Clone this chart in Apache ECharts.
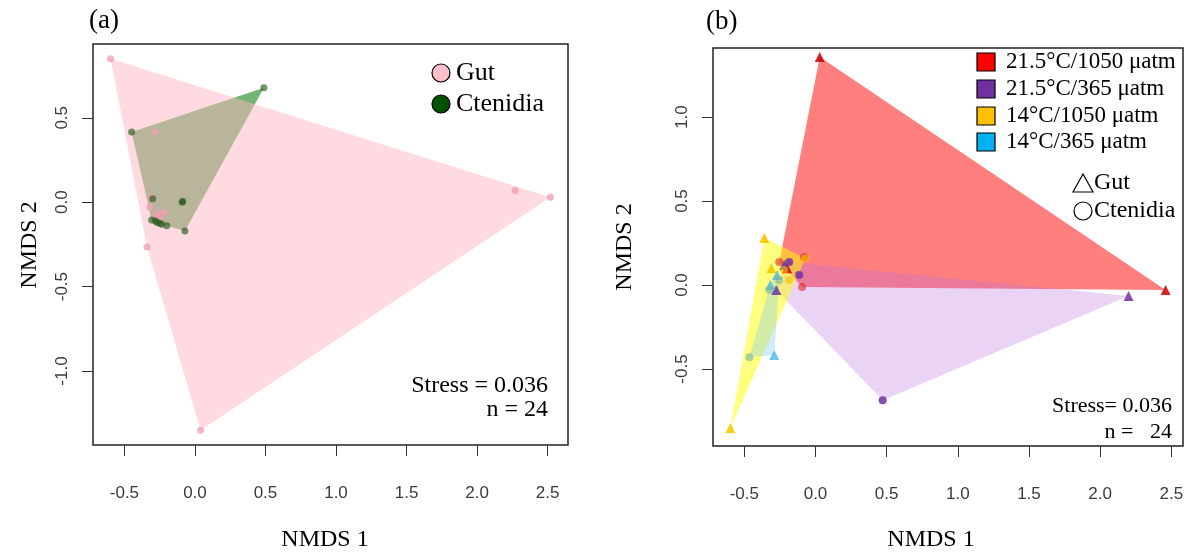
<!DOCTYPE html>
<html><head><meta charset="utf-8">
<script src="https://cdn.jsdelivr.net/npm/echarts@6/dist/echarts.min.js"></script>
<style>html,body{margin:0;padding:0;background:#fff}#c{width:1188px;height:554px}</style>
</head><body><div id="c"></div>
<script>
// ---------- Panel (a): tissue ----------
const gutA = [[-0.598,0.849],[2.52,0.03],[2.27,0.07],[0.04,-1.35],[-0.34,-0.265],[-0.284,0.418],
  [-0.31,0.03],[-0.26,-0.07],[-0.32,-0.03],[-0.28,-0.09],[-0.25,-0.10],[-0.22,-0.06]];
const ctenA = [[0.489,0.678],[-0.449,0.416],[-0.087,0.006],[-0.071,-0.171],[-0.307,-0.106],[-0.27,-0.12],
  [-0.236,-0.13],[-0.30,0.02],[-0.28,-0.11],[-0.25,-0.125],[-0.20,-0.14],[-0.09,0.0]];
// ---------- Panel (b): treatment (triangles = gut, circles = ctenidia) ----------
const redGut = [[0.03,1.357],[2.46,-0.03],[-0.20,0.10]];
const redCten = [[-0.08,0.167],[-0.255,0.137],[-0.094,-0.012]];
const purGut = [[2.20,-0.065],[-0.22,0.12],[-0.276,-0.03]];
const purCten = [[0.472,-0.685],[-0.185,0.137],[-0.115,0.06]];
const yelGut = [[-0.36,0.28],[-0.598,-0.851],[-0.31,0.10]];
const yelCten = [[-0.07,0.16],[-0.22,0.09],[-0.186,0.03]];
const cyaGut = [[-0.29,-0.417],[-0.318,0.0],[-0.27,0.06]];
const cyaCten = [[-0.465,-0.43],[-0.325,-0.03],[-0.255,0.03]];

const xTicks = [-0.5,0,0.5,1,1.5,2,2.5];
const yTicksA = [-1,-0.5,0,0.5];
const yTicksB = [-0.5,0,0.5,1];
const yRangeB = [-0.958, 1.411];
const legendA = ['Gut','Ctenidia'];
const legendB = ['21.5°C/1050 μatm','21.5°C/365 μatm','14°C/1050 μatm','14°C/365 μatm'];
const shapeLegend = ['Gut','Ctenidia'];

function hull(pts){
  const p = pts.slice().sort((a,b)=>a[0]-b[0]||a[1]-b[1]);
  const cr=(o,a,b)=>(a[0]-o[0])*(b[1]-o[1])-(a[1]-o[1])*(b[0]-o[0]);
  const lo=[],up=[];
  for(const q of p){while(lo.length>=2&&cr(lo[lo.length-2],lo[lo.length-1],q)<=0)lo.pop();lo.push(q);}
  for(let i=p.length-1;i>=0;i--){const q=p[i];while(up.length>=2&&cr(up[up.length-2],up[up.length-1],q)<=0)up.pop();up.push(q);}
  up.pop();lo.pop();return lo.concat(up);
}
function rng(all){
  const xs=all.map(p=>p[0]), ys=all.map(p=>p[1]);
  const x0=Math.min(...xs),x1=Math.max(...xs),y0=Math.min(...ys),y1=Math.max(...ys);
  const dx=(x1-x0)*0.04, dy=(y1-y0)*0.04;
  return {xmin:x0-dx,xmax:x1+dx,ymin:y0-dy,ymax:y1+dy};
}
const rA = rng(gutA.concat(ctenA));
const rB = rng([].concat(redGut,redCten,purGut,purCten,yelGut,yelCten,cyaGut,cyaCten));
rB.ymin = yRangeB[0]; rB.ymax = yRangeB[1];

function hullSeries(pts, gi, fill, z){
  const h = hull(pts);
  return {type:'custom', xAxisIndex:gi, yAxisIndex:gi, data:[[pts[0][0],pts[0][1]]], z:z, silent:true, clip:true,
    renderItem:(params,api)=>({type:'polygon', shape:{points:h.map(p=>api.coord(p))}, style:{fill:fill}})};
}
function scat(pts, gi, sym, size, color, z){
  return {type:'scatter', xAxisIndex:gi, yAxisIndex:gi, data:pts, symbol:sym, symbolSize:size, z:z, silent:true,
    itemStyle:{color:color, opacity:1}};
}
const tickLbl = {fontFamily:'Liberation Sans', fontSize:17, color:'#3a3a3a'};
function xAx(gi, r){
  return {type:'value', gridIndex:gi, min:r.xmin, max:r.xmax, splitLine:{show:false},
    axisLine:{show:false, onZero:false}, axisTick:{show:true, inside:false, length:11, customValues:xTicks, lineStyle:{color:'#333',width:1}},
    axisLabel:{customValues:xTicks, margin:40, formatter:v=>v.toFixed(1), ...tickLbl}};
}
function yAx(gi, r, ticks){
  return {type:'value', gridIndex:gi, min:r.ymin, max:r.ymax, splitLine:{show:false},
    axisLine:{show:false, onZero:false}, axisTick:{show:true, inside:false, length:11, customValues:ticks, lineStyle:{color:'#333',width:1}},
    axisLabel:{customValues:ticks, rotate:90, margin:22, formatter:v=>v.toFixed(1), ...tickLbl}};
}
const serif = 'Liberation Serif';
function txt(x,y,s,size,align,rot){
  return {type:'text', x:x, y:y, rotation:rot||0, style:{text:s, fontFamily:serif, fontSize:size, fill:'#000',
    align:align||'left', verticalAlign:'middle'}};
}
const graphics = [
  txt(89,21,'(a)',27), txt(706,22,'(b)',27),
  txt(325,540,'NMDS 1',24,'center'), txt(931,540,'NMDS 1',24,'center'),
  txt(30,245,'NMDS 2',24,'center',Math.PI/2), txt(625,247,'NMDS 2',24,'center',Math.PI/2),
  txt(548,386,'Stress = 0.036',24,'right'), txt(548,410,'n = 24',24,'right'),
  txt(1172,406,'Stress= 0.036',22,'right'), txt(1172,432,'n =   24',22,'right'),
  {type:'circle', shape:{cx:441,cy:73,r:9}, style:{fill:'#FFC0CB',stroke:'#000',lineWidth:1.2}},
  {type:'circle', shape:{cx:441,cy:104,r:9}, style:{fill:'#005000',stroke:'#000',lineWidth:1.2}},
  txt(456,73,legendA[0],26), txt(456,104,legendA[1],26),
];
const sqCol = ['#FF0000','#7030A0','#FFC000','#00B0F0'];
legendB.forEach((s,i)=>{
  const cy=[62,89,116,142][i];
  graphics.push({type:'rect', shape:{x:977,y:cy-9,width:18,height:18}, style:{fill:sqCol[i],stroke:'#000',lineWidth:1.2}});
  graphics.push(txt(1006,cy,s,23));
});
graphics.push({type:'polygon', shape:{points:[[1083,174],[1073,192],[1093,192]]}, style:{fill:'none',stroke:'#000',lineWidth:1.2}});
graphics.push(txt(1094,183,shapeLegend[0],24));
graphics.push({type:'circle', shape:{cx:1083,cy:211,r:9}, style:{fill:'none',stroke:'#000',lineWidth:1.2}});
graphics.push(txt(1094,211,shapeLegend[1],24));

const option = {
  backgroundColor:'#fff', animation:false,
  grid:[
    {left:93, top:44, width:475, height:401, show:true, borderColor:'#222', borderWidth:1.5, backgroundColor:'transparent', containLabel:false},
    {left:713, top:48, width:470, height:398, show:true, borderColor:'#222', borderWidth:1.5, backgroundColor:'transparent', containLabel:false}
  ],
  xAxis:[xAx(0,rA), xAx(1,rB)],
  yAxis:[yAx(0,rA,yTicksA), yAx(1,rB,yTicksB)],
  series:[
    hullSeries(ctenA,0,'rgba(0,120,0,0.55)',1),
    hullSeries(gutA,0,'rgba(255,182,193,0.5)',2),
    scat(gutA,0,'circle',7,'rgba(240,160,175,0.8)',5),
    scat(ctenA,0,'circle',7,'rgba(40,90,30,0.65)',6),
    hullSeries([].concat(redGut,redCten),1,'rgba(255,0,0,0.5)',1),
    hullSeries([].concat(purGut,purCten),1,'rgba(190,110,225,0.3)',2),
    hullSeries([].concat(yelGut,yelCten),1,'rgba(255,255,0,0.5)',3),
    hullSeries([].concat(cyaGut,cyaCten),1,'rgba(120,200,240,0.35)',4),
    scat(redGut,1,'triangle',10,'rgba(200,0,0,0.85)',6), scat(redCten,1,'circle',8,'rgba(220,40,40,0.6)',6),
    scat(purGut,1,'triangle',10,'rgba(112,48,160,0.85)',6), scat(purCten,1,'circle',8,'rgba(112,48,160,0.85)',6),
    scat(yelGut,1,'triangle',10,'rgba(245,200,0,0.9)',6), scat(yelCten,1,'circle',8,'rgba(245,190,0,0.6)',6),
    scat(cyaGut,1,'triangle',10,'rgba(80,180,230,0.8)',6), scat(cyaCten,1,'circle',8,'rgba(120,180,150,0.6)',6)
  ],
  graphic:graphics
};
const chart = echarts.init(document.getElementById('c'), null, {renderer:'canvas'});
chart.setOption(option);
</script></body></html>
